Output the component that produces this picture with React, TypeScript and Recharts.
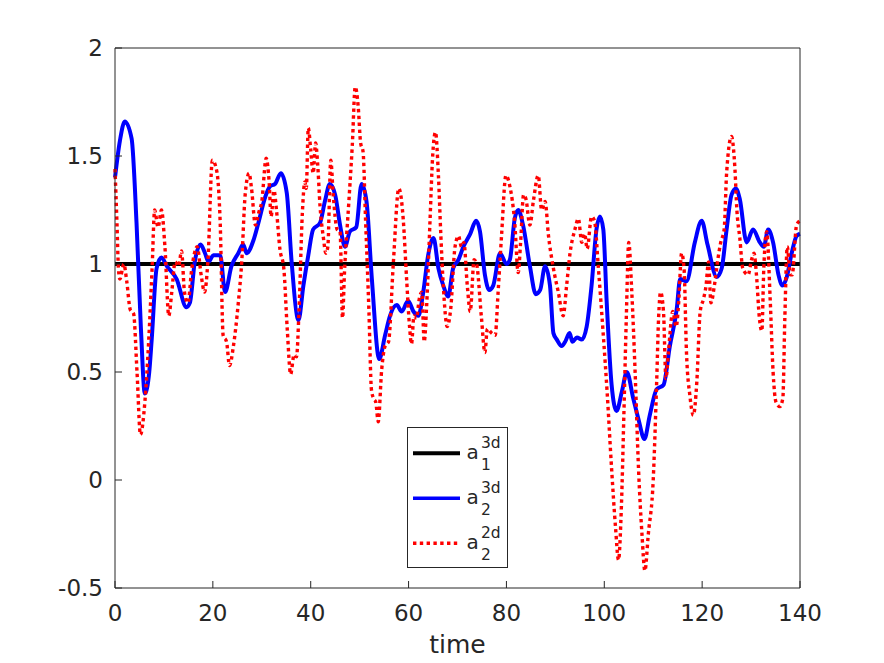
import React from 'react';
import { LineChart, Line, XAxis, YAxis, Legend } from 'recharts';

// [time, value]
const a1Series: [number, number][] = [
  [0, 1.0], [20, 1.0], [40, 1.0], [60, 1.0], [80, 1.0], [100, 1.0], [120, 1.0], [140, 1.0],
];

const a2Series3d: [number, number][] = [
  [0, 1.4], [1, 1.57], [2, 1.66], [3.4, 1.58], [4.4, 1.19], [5.3, 0.7], [6.1, 0.4], [7, 0.5],
  [7.5, 0.65], [8.5, 0.98], [9.5, 1.03], [10.6, 0.99], [12.6, 0.93], [14.6, 0.8], [15.3, 0.82],
  [16.3, 1.01], [17.5, 1.09], [18.4, 1.05], [19.1, 1.01], [20.1, 1.04], [21.5, 1.04], [22.5, 0.87],
  [23.8, 0.99], [25.2, 1.05], [26.2, 1.09], [26.9, 1.05], [28.3, 1.11], [29.3, 1.19], [30.7, 1.31],
  [31.7, 1.36], [32.7, 1.37], [33.9, 1.42], [35.1, 1.33], [36.1, 1.01], [37.5, 0.74], [38.5, 0.9],
  [39.5, 1.04], [40.5, 1.16], [41.9, 1.19], [42.9, 1.29], [43.9, 1.37], [45, 1.32], [46, 1.18],
  [47, 1.08], [48, 1.15], [49.3, 1.17], [50.4, 1.37], [51.4, 1.29], [52.5, 0.93], [54, 0.56],
  [55.2, 0.67], [56.2, 0.76], [57.6, 0.81], [58.6, 0.78], [59.9, 0.83], [61, 0.78], [62, 0.76],
  [63, 0.87], [64, 1.04], [65.1, 1.12], [66.1, 0.98], [67.1, 0.9], [68.1, 0.85], [69.1, 0.98],
  [70.2, 1.02], [71.2, 1.08], [72.6, 1.14], [73.8, 1.2], [74.6, 1.15], [75.6, 0.95], [76.5, 0.88],
  [77.3, 0.9], [78.7, 1.05], [80, 1.0], [80.7, 1.02], [81.7, 1.21], [82.4, 1.25], [83.4, 1.18],
  [84.8, 0.99], [86, 0.86], [86.9, 0.88], [87.9, 0.99], [88.9, 0.9], [89.6, 0.68], [90.3, 0.65],
  [91.3, 0.62], [92, 0.64], [92.9, 0.68], [93.5, 0.64], [94.4, 0.66], [95.4, 0.65], [96.4, 0.71],
  [97.4, 0.9], [98.4, 1.16], [99.1, 1.22], [99.8, 1.16], [100.5, 0.82], [101.5, 0.44], [102.5, 0.32],
  [103.6, 0.41], [104.6, 0.5], [105.9, 0.38], [107, 0.28], [108.2, 0.19], [109.3, 0.3], [110.7, 0.42],
  [112.1, 0.44], [113.4, 0.62], [114.8, 0.79], [115.5, 0.93], [116.8, 0.92], [118.5, 1.1],
  [119.9, 1.2], [121.1, 1.09], [123, 0.94], [124, 0.98], [125, 1.16], [126, 1.32], [126.9, 1.35],
  [127.7, 1.3], [129.1, 1.1], [130.4, 1.16], [131.8, 1.1], [132.6, 1.08], [133.5, 1.16],
  [134.5, 1.1], [135.6, 0.95], [136.4, 0.9], [137.3, 0.94], [138.3, 1.05], [139.3, 1.13], [140, 1.14],
];

const a2Series2d: [number, number][] = [
  [0, 1.44], [0.4, 1.19], [0.7, 0.98], [1, 0.93], [1.8, 1.0], [2.4, 0.92], [3.1, 0.79], [3.8, 0.77],
  [4.5, 0.5], [5.2, 0.21], [6.1, 0.36], [6.9, 0.65], [7.6, 0.99], [8.1, 1.25], [8.8, 1.17], [9.5, 1.25],
  [10.2, 1.08], [11, 0.76], [11.6, 0.87], [12.3, 1.01], [13, 0.99], [13.6, 1.06], [14.2, 0.87],
  [14.9, 0.82], [15.7, 0.98], [16.8, 1.08], [17.6, 0.95], [18.3, 0.87], [19, 1.02], [19.9, 1.48],
  [20.8, 1.43], [21.5, 1.19], [22.1, 0.67], [22.8, 0.64], [23.4, 0.53], [24.2, 0.62], [25.2, 0.82],
  [25.9, 1.01], [26.6, 1.32], [27.4, 1.42], [27.9, 1.35], [28.7, 1.18], [29.4, 1.24], [30, 1.29],
  [30.9, 1.49], [31.5, 1.38], [31.9, 1.22], [32.5, 1.34], [33, 1.25], [33.7, 1.07], [34.5, 0.98],
  [35.2, 0.7], [35.9, 0.49], [36.6, 0.58], [37.1, 0.57], [37.6, 0.78], [38.3, 1.24], [38.8, 1.38],
  [39.1, 1.35], [39.5, 1.63], [40, 1.53], [40.5, 1.42], [41, 1.56], [41.4, 1.47], [41.9, 1.27],
  [42.6, 1.12], [43.1, 1.05], [43.5, 1.08], [44.1, 1.48], [44.6, 1.32], [45.4, 1.16], [46, 1.15],
  [46.5, 0.75], [46.9, 0.96], [47.8, 1.29], [48.5, 1.55], [49.1, 1.82], [49.7, 1.73], [50.2, 1.56],
  [50.7, 1.52], [51.2, 1.21], [51.9, 0.78], [52.4, 0.42], [52.8, 0.38], [53.3, 0.36], [53.8, 0.27],
  [54.5, 0.51], [55.2, 0.62], [55.9, 0.64], [56.9, 1.01], [58, 1.35], [58.9, 1.21], [59.6, 0.93],
  [60.2, 0.71], [60.6, 0.63], [61.1, 0.76], [61.6, 0.75], [62.2, 0.84], [62.7, 0.87], [63.2, 0.64],
  [63.7, 0.81], [64.4, 1.21], [64.9, 1.49], [65.5, 1.61], [66.1, 1.41], [66.6, 1.13], [67.1, 0.9],
  [67.9, 0.71], [68.6, 0.79], [69.5, 1.08], [70.2, 1.13], [70.8, 1.08], [71.3, 1.1], [72, 0.9],
  [72.6, 0.78], [73.4, 1.02], [73.9, 1.0], [74.9, 0.75], [75.6, 0.59], [76.1, 0.7], [77, 0.68],
  [77.7, 0.67], [78.3, 0.87], [79, 1.13], [79.9, 1.41], [80.7, 1.36], [81.7, 1.19], [82.4, 0.96],
  [82.9, 1.1], [83.5, 1.32], [84, 1.3], [84.8, 1.18], [85.5, 1.29], [86.5, 1.41], [87.2, 1.25],
  [87.9, 1.29], [88.6, 1.13], [89.6, 0.98], [90.6, 0.87], [91.6, 0.76], [92.3, 0.9], [93, 1.05],
  [94, 1.16], [94.7, 1.21], [95.4, 1.1], [96, 1.14], [96.5, 1.07], [97.4, 1.22], [98, 1.2],
  [98.8, 0.98], [99.8, 0.67], [100.6, 0.4], [101.5, 0.05], [102.3, -0.22], [102.9, -0.37],
  [103.5, -0.12], [104, 0.3], [104.5, 0.75], [105, 1.1], [105.6, 0.88], [106.3, 0.5], [107, 0.05],
  [107.7, -0.25], [108.3, -0.42], [109, -0.25], [110, 0.0], [110.7, 0.45], [111.1, 0.75],
  [111.5, 0.87], [112.1, 0.78], [112.6, 0.47], [113.1, 0.59], [114, 0.78], [114.7, 0.71],
  [115.2, 0.82], [115.8, 1.05], [116.3, 0.98], [116.8, 0.59], [117.5, 0.39], [118.2, 0.3],
  [118.9, 0.45], [119.6, 0.78], [120.3, 0.84], [120.8, 0.9], [121.3, 1.01], [121.8, 0.82],
  [122.5, 0.9], [123.2, 1.02], [123.8, 1.1], [124.5, 1.16], [125, 1.42], [126, 1.59], [126.7, 1.44],
  [127.1, 1.25], [127.7, 1.12], [128.3, 0.98], [129.4, 0.95], [130.1, 1.02], [130.6, 1.05],
  [131.1, 0.95], [131.7, 0.75], [132.2, 0.69], [132.6, 0.98], [133.2, 1.15], [133.9, 0.84],
  [134.5, 0.5], [135.1, 0.36], [135.9, 0.34], [136.5, 0.38], [136.9, 0.75], [137.4, 1.08],
  [138, 0.95], [138.4, 0.95], [139.3, 1.18], [140, 1.2],
];

const xTicks = [0, 20, 40, 60, 80, 100, 120, 140];
const yTicks = [-0.5, 0, 0.5, 1, 1.5, 2];

const toRows = (s: [number, number][]) => s.map(([t, v]) => ({ t, v }));

const AXIS = '#262626';
const FONT = 'DejaVu Sans, sans-serif';

const legendItems = [
  { color: '#000000', dash: undefined, width: 4, sup: '3d', sub: '1' },
  { color: '#0000ff', dash: undefined, width: 3.5, sup: '3d', sub: '2' },
  { color: '#ff0000', dash: '3.4 3.4', width: 3.4, sup: '2d', sub: '2' },
];

const LegendBox = () => (
  <svg width={102} height={142} style={{ display: 'block' }}>
    <rect x={0.5} y={0.5} width={100} height={140} fill="#fff" stroke={AXIS} strokeWidth={1} />
    {legendItems.map((it, i) => {
      const cy = 26.3 + 45 * i;
      return (
        <g key={i} fontFamily={FONT} fill={AXIS}>
          <line x1={6} x2={53} y1={cy} y2={cy} stroke={it.color} strokeWidth={it.width} strokeDasharray={it.dash} />
          <text x={59.5} y={cy + 6} fontSize={20}>a</text>
          <text x={74} y={cy - 5} fontSize={15.5}>{it.sup}</text>
          <text x={74} y={cy + 16.5} fontSize={15.5}>{it.sub}</text>
        </g>
      );
    })}
  </svg>
);

const App = () => {
  const tickStyle = { fontSize: 23, fill: AXIS, fontFamily: FONT };
  return (
    <div style={{ position: 'absolute', left: 0, top: 0, background: '#fff' }}>
      <LineChart width={884} height={663} margin={{ top: 47, right: 83, left: 0, bottom: 0 }}>
        <XAxis
          dataKey="t"
          type="number"
          domain={[0, 140]}
          ticks={xTicks}
          height={75}
          allowDuplicatedCategory={false}
          tick={tickStyle}
          tickSize={-7}
          tickMargin={24}
          stroke={AXIS}
          label={{ value: 'time', position: 'insideBottom', offset: 10, fontSize: 25, fill: AXIS, fontFamily: FONT }}
        />
        <XAxis
          xAxisId="top"
          orientation="top"
          dataKey="t"
          type="number"
          domain={[0, 140]}
          ticks={xTicks}
          height={1}
          tick={false}
          tickSize={-7}
          stroke={AXIS}
        />
        <YAxis
          type="number"
          domain={[-0.5, 2]}
          ticks={yTicks}
          width={115}
          allowDataOverflow
          tick={tickStyle}
          tickSize={-7}
          tickMargin={19}
          stroke={AXIS}
        />
        <YAxis
          yAxisId="right"
          orientation="right"
          type="number"
          domain={[-0.5, 2]}
          ticks={yTicks}
          width={1}
          allowDataOverflow
          tick={false}
          tickSize={-7}
          stroke={AXIS}
        />
        <Legend
          layout="vertical"
          align="center"
          verticalAlign="middle"
          content={() => <LegendBox />}
          wrapperStyle={{ position: 'absolute', left: 407, top: 427, width: 102, height: 142 }}
        />
        <Line data={toRows(a1Series)} dataKey="v" type="linear" stroke="#000000" strokeWidth={4}
          dot={false} activeDot={false} isAnimationActive={false} />
        <Line data={toRows(a2Series3d)} dataKey="v" type="monotone" stroke="#0000ff" strokeWidth={4}
          dot={false} activeDot={false} isAnimationActive={false} />
        <Line data={toRows(a2Series2d)} dataKey="v" type="monotone" stroke="#ff0000" strokeWidth={3.4}
          strokeDasharray="3.4 3.4" dot={false} activeDot={false} isAnimationActive={false} />
      </LineChart>
    </div>
  );
};

export default App;
